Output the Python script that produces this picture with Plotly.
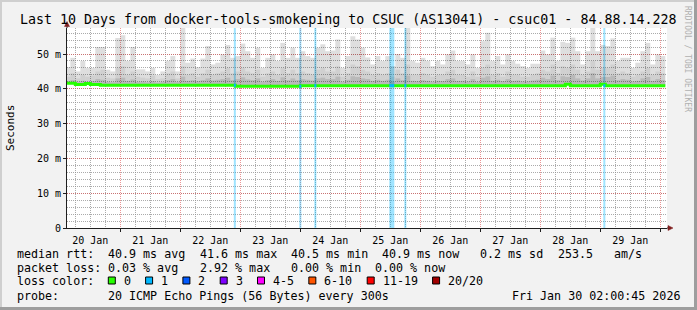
import plotly.graph_objects as go
import pandas as pd

# ---------------- data ----------------
bin_start = "2026-01-20 02:00"
bin_hours = 2

smoke_top = [46.2, 48.9, 45.0, 48.0, 46.0, 46.0, 52.0, 52.0, 45.5, 45.0, 54.6, 55.4, 48.0, 52.0, 45.6,
             45.6, 45.0, 46.0, 44.0, 45.0, 48.0, 49.4, 45.0, 57.5, 47.5, 48.7, 46.2, 48.7, 52.3, 47.0,
             47.5, 49.9, 52.6, 48.9, 49.4, 53.0, 50.8, 48.9, 51.8, 46.0, 48.9, 49.9, 48.0, 53.2, 48.9,
             51.8, 48.9, 50.8, 49.4, 48.9, 51.8, 52.8, 50.8, 51.0, 54.2, 46.0, 49.4, 55.1, 54.2, 51.8,
             49.0, 47.0, 49.4, 48.0, 49.4, 46.5, 50.0, 48.9, 57.5, 48.0, 47.5, 48.9, 48.0, 46.5, 48.0,
             47.0, 49.9, 51.0, 48.0, 48.0, 47.0, 49.9, 46.0, 53.7, 56.1, 48.0, 49.4, 47.0, 49.9, 48.0,
             47.2, 46.5, 46.0, 47.2, 47.2, 51.0, 49.9, 54.7, 48.0, 53.5, 53.2, 54.7, 50.8, 47.0, 50.8,
             57.5, 50.8, 52.6, 52.3, 54.5, 48.0, 48.9, 48.9, 46.0, 47.5, 50.8, 53.2, 47.0, 49.9, 49.4]

smoke_mid = [43.5, 44.5, 43.0, 44.0, 43.5, 43.8, 45.0, 45.5, 43.2, 43.0, 46.0, 46.5, 44.0, 45.0, 43.5,
             43.2, 43.0, 43.8, 42.8, 43.0, 44.5, 45.0, 43.0, 46.5, 44.0, 44.5, 43.5, 44.5, 45.5, 44.0,
             44.5, 45.0, 46.0, 44.5, 45.0, 46.0, 45.0, 44.5, 45.5, 43.5, 44.5, 45.0, 44.0, 46.0, 44.5,
             45.5, 44.5, 45.0, 44.5, 44.0, 45.5, 46.0, 45.0, 45.0, 46.5, 43.5, 44.5, 47.0, 46.5, 45.5,
             45.0, 44.0, 44.5, 44.0, 44.5, 43.5, 45.5, 44.5, 47.0, 44.0, 44.0, 44.5, 44.0, 43.5, 44.0,
             44.0, 45.0, 45.5, 44.0, 44.0, 43.5, 45.0, 43.5, 46.0, 47.0, 44.0, 44.5, 43.5, 45.0, 44.0,
             44.0, 43.5, 43.5, 44.0, 44.5, 45.5, 45.0, 47.0, 44.5, 46.5, 46.0, 47.0, 45.5, 44.0, 45.0,
             48.0, 45.5, 46.0, 46.0, 47.0, 44.5, 45.0, 44.5, 43.5, 44.0, 45.0, 46.0, 44.0, 45.0, 44.5]

smoke_low = [42.2, 42.5, 42.0, 42.3, 42.0, 42.2, 42.8, 42.6, 42.0, 41.9, 43.0, 43.2, 42.3, 42.7, 42.0,
             42.1, 41.9, 42.2, 41.8, 42.0, 42.5, 42.8, 42.0, 43.5, 42.3, 42.5, 42.2, 42.5, 43.0, 42.4,
             42.6, 42.8, 43.2, 42.5, 42.8, 43.3, 42.7, 42.5, 43.0, 42.0, 42.5, 42.8, 42.3, 43.3, 42.5,
             43.0, 42.5, 42.8, 42.6, 42.4, 43.0, 43.2, 42.8, 42.8, 43.5, 42.0, 42.6, 43.6, 43.4, 43.0,
             42.8, 42.3, 42.6, 42.3, 42.6, 42.1, 43.0, 42.5, 43.8, 42.3, 42.2, 42.5, 42.3, 42.0, 42.3,
             42.2, 42.8, 43.0, 42.3, 42.3, 42.1, 42.8, 42.0, 43.2, 43.6, 42.3, 42.6, 42.2, 42.8, 42.3,
             42.4, 42.1, 42.1, 42.4, 42.6, 43.2, 42.8, 43.8, 42.5, 43.6, 43.4, 44.0, 43.0, 42.4, 43.0,
             44.5, 43.0, 43.4, 43.4, 43.8, 42.5, 42.8, 42.6, 42.1, 42.3, 43.0, 43.4, 42.3, 42.8, 42.5]

median_rtt = [41.6, 41.6, 41.2, 41.2, 41.5, 41.2, 41.2, 41.0, 41.0, 41.0, 41.0, 41.0, 41.0, 41.0, 41.0,
              41.0, 41.0, 41.0, 41.0, 41.0, 41.0, 41.0, 41.0, 41.0, 41.0, 41.0, 41.0, 41.0, 41.0, 41.0,
              41.0, 41.0, 41.0, 41.0, 40.7, 40.7, 40.7, 40.7, 40.7, 40.7, 40.7, 40.7, 40.7, 40.7, 40.7,
              40.7, 40.7, 40.9, 40.9, 40.9, 40.9, 40.9, 40.9, 40.9, 40.9, 40.9, 40.9, 40.9, 40.9, 40.9,
              40.9, 40.9, 40.9, 40.9, 40.9, 40.9, 40.9, 40.9, 40.9, 40.9, 40.9, 40.9, 40.9, 40.9, 40.9,
              40.9, 40.9, 40.9, 40.9, 40.9, 40.9, 40.9, 40.9, 40.9, 40.9, 40.9, 40.9, 40.9, 40.9, 40.9,
              40.9, 40.9, 40.9, 40.9, 40.9, 40.9, 40.9, 40.9, 40.9, 40.9, 41.3, 40.9, 40.9, 40.9, 40.9,
              40.9, 40.9, 41.3, 40.9, 40.9, 40.9, 40.9, 40.9, 40.9, 40.9, 40.9, 40.9, 40.9, 40.9, 40.9]

loss_times = ["2026-01-22 21:48", "2026-01-24 00:00", "2026-01-24 06:00",
              "2026-01-25 12:36", "2026-01-25 18:00", "2026-01-29 01:36"]
loss_hours = [0.8, 0.8, 0.8, 2.0, 0.8, 0.8]
loss_pings = [1, 1, 1, 1, 1, 1]
loss_median = [41.0, 40.7, 40.9, 40.9, 40.9, 40.9]

y_ticks = [0, 10, 20, 30, 40, 50]
y_ticktext = ["0", "10 m", "20 m", "30 m", "40 m", "50 m"]
y_max = 57.47

legend_labels = ["0", "1", "2", "3", "4-5", "6-10", "11-19", "20/20"]
legend_colors = ["#26ff00", "#00b8ff", "#0059ff", "#7e00ff", "#ff00ff", "#ff5500", "#ff0000", "#a10000"]

title = "Last 10 Days from docker-tools-smokeping to CSUC (AS13041) - csuc01 - 84.88.14.228"
rtt_row = [("median rtt:", 0), ("40.9 ms avg", 13), ("41.6 ms max", 26), ("40.5 ms min", 39),
           ("40.9 ms now", 52), ("0.2 ms sd", 66), ("253.5", 77), ("am/s", 85)]
loss_row = [("packet loss:", 0), ("0.03 % avg", 13), ("2.92 % max", 26), ("0.00 % min", 39),
            ("0.00 % now", 51)]
probe_text = "20 ICMP Echo Pings (56 Bytes) every 300s"
date_text = "Fri Jan 30 02:00:45 2026"

# ---------------- layout helpers ----------------
W, H = 697, 310
ML, MR, MT, MB = 67, 30, 28, 82
PW = W - ML - MR
PH = H - MT - MB
MONO = "DejaVu Sans Mono"
CW = 7.02  # char advance of legend font


def px(x):
    return (x - ML) / PW


def py(y):
    return (H - MB - y) / PH


loss_color_map = dict(zip([0, 1, 2, 3], legend_colors[:4]))

t0 = pd.Timestamp(bin_start)
n = len(smoke_top)
edges = [t0 + pd.Timedelta(hours=bin_hours * i) for i in range(n + 1)]
centers = [t0 + pd.Timedelta(hours=bin_hours * (i + 0.5)) for i in range(n)]
bw = bin_hours * 3600 * 1000

fig = go.Figure()

# loss bars (full height)
fig.add_trace(go.Bar(
    x=pd.to_datetime(loss_times), y=[y_max] * len(loss_times), base=0,
    width=[h * 3600 * 1000 for h in loss_hours],
    marker=dict(color=["rgba(0,184,255,0.38)" for p in loss_pings], line=dict(width=0)),
    hoverinfo="skip", showlegend=False))

# smoke layers
for arr, col in [(smoke_top, "rgba(0,0,0,0.13)"), (smoke_mid, "rgba(0,0,0,0.06)"),
                 (smoke_low, "rgba(0,0,0,0.11)")]:
    fig.add_trace(go.Bar(
        x=centers, y=[a - m for a, m in zip(arr, median_rtt)], base=median_rtt, width=bw,
        marker=dict(color=col, line=dict(width=0)), hoverinfo="skip", showlegend=False))

# median line
fig.add_trace(go.Scatter(
    x=edges, y=median_rtt + [median_rtt[-1]], mode="lines",
    line=dict(color="#26ff00", width=3, shape="hv"), hoverinfo="skip", showlegend=False))

# median segments coloured by loss
lx, ly = [], []
for t, h, m in zip(loss_times, loss_hours, loss_median):
    tc = pd.Timestamp(t)
    lx += [tc - pd.Timedelta(hours=h / 2), tc + pd.Timedelta(hours=h / 2), None]
    ly += [m, m, None]
fig.add_trace(go.Scatter(x=lx, y=ly, mode="lines", line=dict(color="#00b8ff", width=3),
                         hoverinfo="skip", showlegend=False))

GRID = "rgba(143,143,143,0.75)"
MGRID = "rgba(222,79,79,0.6)"

fig.update_layout(
    width=W, height=H, margin=dict(l=ML, r=MR, t=MT, b=MB),
    paper_bgcolor="#f2f2f2", plot_bgcolor="#ffffff",
    barmode="overlay", showlegend=False,
    font=dict(family=MONO, color="#000000"),
    xaxis=dict(
        type="date", range=["2026-01-20 02:40", "2026-01-30 02:40"],
        dtick=86400000, tick0="2026-01-20", tickformat="%d %b", ticklabelmode="period",
        showgrid=True, gridcolor=MGRID, griddash="1px,1px", gridwidth=1,
        minor=dict(dtick=21600000, tick0="2026-01-20", showgrid=True, gridcolor=GRID,
                   griddash="1px,1px", gridwidth=1),
        showline=True, linecolor="#1f1f1f", linewidth=1, zeroline=False,
        ticks="outside", ticklen=3, tickcolor="#1f1f1f",
        tickfont=dict(family=MONO, size=10, color="#000000"), fixedrange=True),
    yaxis=dict(
        range=[0, y_max], tickvals=y_ticks, ticktext=y_ticktext,
        showgrid=True, gridcolor=MGRID, griddash="1px,1px", gridwidth=1,
        minor=dict(dtick=2, showgrid=True, gridcolor=GRID, griddash="1px,1px", gridwidth=1),
        showline=True, linecolor="#1f1f1f", linewidth=1, zeroline=False,
        ticks="outside", ticklen=3, tickcolor="#1f1f1f",
        tickfont=dict(family=MONO, size=10, color="#000000"), fixedrange=True),
)

ann = []
shapes = []


def text(s, x, y, size=11.66, anchor="left", color="#000000", angle=0):
    ann.append(dict(text=s.replace(" ", "\u00a0"), x=px(x), y=py(y), xref="paper", yref="paper",
                    xanchor=anchor, yanchor="middle", showarrow=False, textangle=angle,
                    font=dict(family=MONO, size=size, color=color), borderpad=0))


text(title, 347.5, 19, size=13.3, anchor="center")
text("Seconds", 10, 128, size=11, anchor="center", angle=-90)
text("RRDTOOL / TOBI OETIKER", 688, 59, size=8, anchor="center", color="#b0b0b0", angle=90)

for s, c in rtt_row:
    text(s, 16 + c * CW, 254)
for s, c in loss_row:
    text(s, 16 + c * CW, 268)
text("loss color:", 16, 281)
bx = 108.3
for lab, col in zip(legend_labels, legend_colors):
    shapes.append(dict(type="rect", xref="paper", yref="paper", x0=px(bx), x1=px(bx + 7),
                       y0=py(284), y1=py(277), fillcolor=col, line=dict(color="#000000", width=1)))
    text(lab, bx + 14.5, 281)
    bx += 37.3 + CW * (len(lab) - 1)
text("probe:", 16, 295.5)
text(probe_text, 16 + 13 * CW, 295.5)
text(date_text, 681, 295.5, anchor="right")

# frame shading
shapes += [
    dict(type="rect", xref="paper", yref="paper", x0=px(0), x1=px(W), y0=py(0), y1=py(2),
         fillcolor="#cfcfcf", line=dict(width=0), layer="above"),
    dict(type="rect", xref="paper", yref="paper", x0=px(0), x1=px(2), y0=py(0), y1=py(H),
         fillcolor="#cfcfcf", line=dict(width=0), layer="above"),
    dict(type="rect", xref="paper", yref="paper", x0=px(0), x1=px(W), y0=py(H - 3), y1=py(H),
         fillcolor="#9e9e9e", line=dict(width=0), layer="above"),
    dict(type="rect", xref="paper", yref="paper", x0=px(W - 3), x1=px(W), y0=py(0), y1=py(H),
         fillcolor="#9e9e9e", line=dict(width=0), layer="above"),
]
# axis extensions and arrows
shapes += [
    dict(type="line", xref="paper", yref="paper", x0=px(ML), x1=px(ML), y0=py(MT), y1=py(24),
         line=dict(color="#1f1f1f", width=1)),
    dict(type="line", xref="paper", yref="paper", x0=px(W - MR), x1=px(669), y0=py(H - MB),
         y1=py(H - MB), line=dict(color="#1f1f1f", width=1)),
    dict(type="path", xref="paper", yref="paper",
         path=f"M {px(ML - 2.5)} {py(26.5)} L {px(ML + 2.5)} {py(26.5)} L {px(ML)} {py(21.5)} Z",
         fillcolor="#801f1f", line=dict(color="#801f1f", width=0.5)),
    dict(type="path", xref="paper", yref="paper",
         path=f"M {px(668)} {py(H - MB - 2.5)} L {px(668)} {py(H - MB + 2.5)} L {px(673)} {py(H - MB)} Z",
         fillcolor="#801f1f", line=dict(color="#801f1f", width=0.5)),
]

fig.update_layout(annotations=ann, shapes=shapes)
fig.write_html("out.html", config={"displayModeBar": False})
